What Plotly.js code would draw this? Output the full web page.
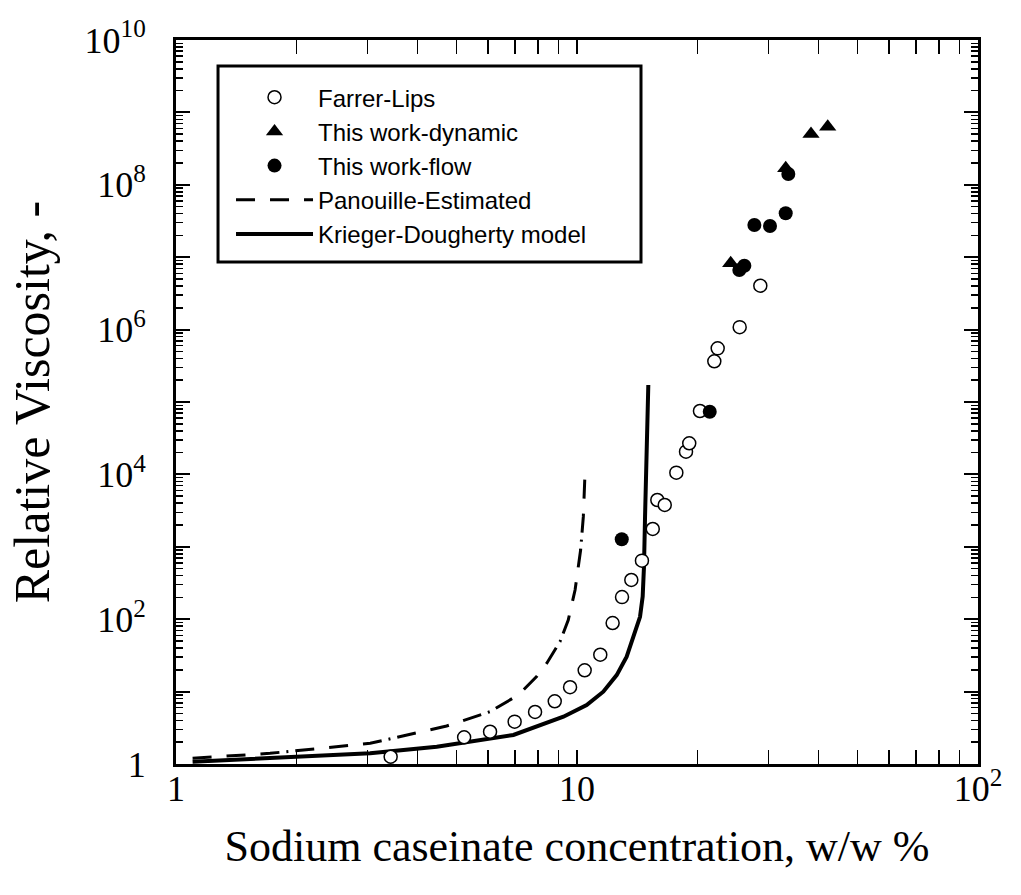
<!DOCTYPE html>
<html>
<head>
<meta charset="utf-8">
<script src="https://cdn.plot.ly/plotly-3.0.1.min.js"></script>
<style>html,body{margin:0;padding:0;background:#fff;}#chart{width:1021px;height:895px;}</style>
</head>
<body>
<div id="chart"></div>
<script>
// ---- data ----
const farrerX = [3.43, 5.23, 6.07, 6.99, 7.86, 8.80, 9.61, 10.45, 11.43, 12.27, 12.95, 13.66, 14.52, 15.45, 15.86, 16.55, 17.69, 18.70, 19.05, 20.26, 22.0, 22.43, 25.45, 28.65];
const farrerY = [1.26, 2.34, 2.79, 3.84, 5.23, 7.35, 11.5, 19.7, 32.3, 88.6, 202, 348, 643, 1762, 4430, 3780, 10560, 20600, 26900, 75100, 365000, 551000, 1.08e6, 4.04e6];

const dynX = [24.17, 33.15, 38.33, 42.19];
const dynY = [8.23e6, 1.69e8, 5.03e8, 6.34e8];

const flowX = [12.93, 21.43, 25.4, 26.14, 27.69, 30.29, 33.15, 33.65];
const flowY = [1269, 73400, 6.65e6, 7.63e6, 2.79e7, 2.70e7, 4.04e7, 1.41e8];

const panX = [1.10, 1.716, 3.05, 4.73, 6.07, 7.14, 7.93, 8.40, 9.07, 9.51, 9.89, 10.21, 10.37, 10.47];
const panY = [1.20, 1.405, 1.93, 3.35, 5.28, 8.98, 16.1, 24.5, 48.9, 97.5, 253, 903, 2606, 10360];

const kdX = [1.10, 2.0, 3.05, 4.47, 6.94, 9.25, 10.57, 11.63, 12.56, 13.30, 13.95, 14.36, 14.58, 14.69, 14.78, 14.92, 15.06];
const kdY = [1.076, 1.26, 1.41, 1.73, 2.52, 4.50, 6.53, 9.97, 16.9, 30.4, 71, 108, 205, 531, 2605, 21700, 1.72e5];

const seriesNames = ['Farrer-Lips', 'This work-dynamic', 'This work-flow', 'Panouille-Estimated', 'Krieger-Dougherty model'];

const xTickVals = [1, 10, 100];
const xTickText = ['1', '10', '10<sup>2</sup>'];
const yTickVals = [1, 1e2, 1e4, 1e6, 1e8, 1e10];
const yTickText = ['1', '10<sup>2</sup>', '10<sup>4</sup>', '10<sup>6</sup>', '10<sup>8</sup>', '10<sup>10</sup>'];
const yUnlabelledDecades = [1e1, 1e3, 1e5, 1e7, 1e9];

// minor tick positions (2..9 in each decade)
function minorTicks(d0, d1) {
  const out = [];
  for (let d = d0; d < d1; d++) for (let k = 2; k <= 9; k++) out.push(k * Math.pow(10, d));
  return out;
}

const traces = [
  { x: kdX, y: kdY, name: seriesNames[4], mode: 'lines', legendrank: 5,
    line: { color: '#000', width: 4 } },
  { x: panX, y: panY, name: seriesNames[3], mode: 'lines', legendrank: 4,
    line: { color: '#000', width: 3, dash: '19px,15px,19px,15px,19px,7px,2px,7px' } },
  { x: farrerX, y: farrerY, name: seriesNames[0], mode: 'markers', legendrank: 1,
    marker: { symbol: 'circle', size: 13, color: '#fff', line: { color: '#000', width: 1.5 } } },
  { x: dynX, y: dynY, name: seriesNames[1], mode: 'markers', legendrank: 2,
    marker: { symbol: 'triangle-up', size: 15, color: '#000', line: { width: 0 } } },
  { x: flowX, y: flowY, name: seriesNames[2], mode: 'markers', legendrank: 3,
    marker: { symbol: 'circle', size: 14, color: '#000', line: { width: 0 } } },
  // empty helper trace so the tick-only overlay axis is drawn
  { x: [], y: [], yaxis: 'y2', mode: 'markers', showlegend: false, hoverinfo: 'skip' }
];

const serif = 'Liberation Serif';
const axisCommon = {
  type: 'log', showgrid: false, zeroline: false,
  showline: true, linecolor: '#000', linewidth: 3, mirror: 'allticks',
  ticks: 'inside', ticklen: 14, tickwidth: 2, tickcolor: '#000',
  tickmode: 'array', tickfont: { family: serif, size: 36, color: '#000' }
};

const layout = {
  width: 1021, height: 895,
  margin: { l: 176, r: 43, t: 40, b: 131 },
  paper_bgcolor: '#fff', plot_bgcolor: '#fff',
  showlegend: true,
  hovermode: false,
  xaxis: Object.assign({}, axisCommon, {
    range: [0, 2], tickvals: xTickVals, ticktext: xTickText,
    ticklabelstandoff: -9,
    minor: { tickmode: 'array', tickvals: minorTicks(0, 2), ticks: 'inside', ticklen: 7, tickwidth: 1.5, tickcolor: '#000' },
    title: { text: 'Sodium caseinate concentration, w/w %', font: { family: serif, size: 44, color: '#000' }, standoff: 22 }
  }),
  yaxis: Object.assign({}, axisCommon, {
    range: [0, 10], tickvals: yTickVals, ticktext: yTickText,
    ticklabelstandoff: 20,
    minor: { tickmode: 'array', tickvals: minorTicks(0, 10), ticks: 'inside', ticklen: 7, tickwidth: 1.5, tickcolor: '#000' },
    title: { text: 'Relative Viscosity, -', font: { family: serif, size: 50, color: '#000' }, standoff: 20 }
  }),
  yaxis2: {
    type: 'log', overlaying: 'y', side: 'left', range: [0, 10],
    tickmode: 'array', tickvals: yUnlabelledDecades, showticklabels: false,
    ticks: 'inside', ticklen: 14, tickwidth: 2, tickcolor: '#000',
    showline: true, linecolor: '#000', linewidth: 3, mirror: 'allticks',
    showgrid: false, zeroline: false
  },
  legend: {
    x: 0.0686, y: 0.9515, xanchor: 'left', yanchor: 'top',
    bgcolor: 'rgba(0,0,0,0)', borderwidth: 0,
    font: { family: 'Liberation Sans', size: 24, color: '#000' },
    itemwidth: 77, traceorder: 'normal'
  },
  shapes: [
    { type: 'rect', xref: 'paper', yref: 'paper', x0: 0.0524, x1: 0.5798, y0: 0.6934, y1: 0.9641,
      line: { color: '#000', width: 3 }, fillcolor: 'rgba(0,0,0,0)', layer: 'above' }
  ]
};

Plotly.newPlot('chart', traces, layout, { staticPlot: true, displayModeBar: false });
</script>
</body>
</html>
